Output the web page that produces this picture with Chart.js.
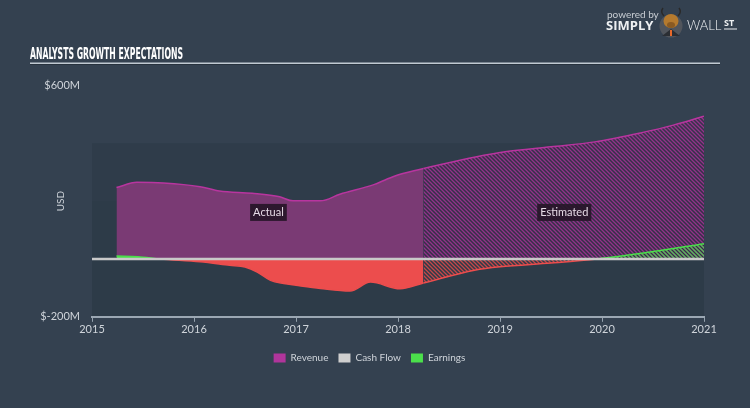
<!DOCTYPE html>
<html>
<head>
<meta charset="utf-8">
<script src="https://cdn.jsdelivr.net/npm/chart.js@4/dist/chart.umd.min.js"></script>
<style>
  html, body { margin: 0; padding: 0; background: #344150; }
  #wrap { width: 750px; height: 408px; position: relative; }
</style>
</head>
<body>
<div id="wrap"><canvas id="growth"></canvas></div>
<script>
// values in $M, x positions in fractional years
const revenueActualYears = [2015.24, 2015.44, 2015.70, 2016.06, 2016.25, 2016.57, 2016.84, 2016.97, 2017.24, 2017.43, 2017.77, 2017.97, 2018.25]
const revenueActual      = [247, 265, 263, 250, 235, 227, 215, 201, 201, 224, 258, 287, 313]
const revenueEstYears    = [2018.25, 2018.76, 2019.05, 2019.5, 2019.93, 2020.39, 2020.7, 2021.0]
const revenueEst         = [313, 353, 371, 388, 405, 437, 463, 494]

const earningsActualYears = [2015.24, 2015.45, 2015.67, 2016.06, 2016.35, 2016.5, 2016.62, 2016.75, 2016.88, 2017.0, 2017.24, 2017.53, 2017.73, 2018.02, 2018.25]
const earningsActual      = [10, 8, 0, -10, -22, -28, -45, -74, -85, -91, -102, -111, -80, -103, -83]
const earningsEstYears    = [2018.25, 2018.75, 2019.0, 2019.5, 2019.95, 2020.47, 2021.0]
const earningsEst         = [-83, -39, -27, -14, 0, 24, 53]

const cashFlowYears = [2015.0, 2018.25, 2021.0]
const cashFlow      = [0, 0, 0]

const yTicks = [-200, 600]
const legendNames = ['Revenue', 'Cash Flow', 'Earnings']

const COLORS = {
  revenueLine: '#b8359f',
  revenueFill: '#7a3a74',
  earningsPos: '#4ade4a',
  earningsNeg: '#ec4d4d',
  cashFlow: '#c9c9c9',
  text: '#cfd4da',
}

function pts(xs, ys) {
  return xs.map((x, i) => ({ x: x, y: ys[i] }))
}

function hatch(color, bg) {
  const c = document.createElement('canvas')
  c.width = 4
  c.height = 4
  const g = c.getContext('2d')
  if (bg) { g.fillStyle = bg; g.fillRect(0, 0, 4, 4) }
  g.strokeStyle = color
  g.lineWidth = 1.3
  g.beginPath()
  g.moveTo(0, 0); g.lineTo(4, 4)
  g.moveTo(-1, 3); g.lineTo(1, 5)
  g.moveTo(3, -1); g.lineTo(5, 1)
  g.stroke()
  return g.createPattern(c, 'repeat')
}

const ctx = document.getElementById('growth').getContext('2d')
const revHatch = hatch('rgba(165,52,150,0.85)', 'rgba(58,42,72,0.6)')
const posHatch = hatch('rgba(80,220,80,0.8)', null)
const negHatch = hatch('rgba(235,75,75,0.8)', null)

const negOrPos = c => (c.p0.parsed.y < 0 || c.p1.parsed.y < 0) ? COLORS.earningsNeg : COLORS.earningsPos

const backdrop = {
  id: 'backdrop',
  beforeDraw(chart) {
    const { ctx, chartArea: a, scales: { y } } = chart
    ctx.save()
    ctx.fillStyle = '#344150'
    ctx.fillRect(0, 0, chart.width, chart.height)
    ctx.fillStyle = '#2f3c4a'
    ctx.fillRect(a.left, y.getPixelForValue(400), a.right - a.left, y.getPixelForValue(200) - y.getPixelForValue(400))
    ctx.fillStyle = '#2d3b48'
    ctx.fillRect(a.left, y.getPixelForValue(200), a.right - a.left, a.bottom - y.getPixelForValue(200))

    // title
    ctx.fillStyle = '#ffffff'
    ctx.font = 'bold 16px "DejaVu Sans Condensed", "Liberation Sans Narrow", sans-serif'
    ctx.textBaseline = 'alphabetic'
    const t = 'ANALYSTS GROWTH EXPECTATIONS'
    const w = ctx.measureText(t).width
    ctx.save()
    ctx.translate(30, 59)
    ctx.scale(153 / w, 1)
    ctx.fillText(t, 0, 0)
    ctx.restore()
    ctx.fillStyle = '#c0c9d1'
    ctx.fillRect(30, 62.5, 690, 1.5)
    ctx.fillStyle = '#232e39'
    ctx.fillRect(30, 64, 690, 0.8)

    // logo
    ctx.fillStyle = '#c8cdd3'
    ctx.font = '10px Lato, sans-serif'
    ctx.fillText('powered by', 607, 18)
    ctx.fillStyle = '#eef0f2'
    ctx.font = 'bold 13px "Open Sans", sans-serif'
    ctx.fillText('SIMPLY', 606, 30)
    ctx.font = '300 13px Lato, sans-serif'
    ctx.fillText('WALL', 687, 30)
    ctx.font = 'bold 9px "Open Sans", sans-serif'
    ctx.fillText('ST', 724, 26)
    ctx.fillRect(724, 28.5, 13, 1)
    ctx.fillStyle = '#51555c'
    ctx.beginPath(); ctx.arc(671, 26, 11.5, 0, Math.PI * 2); ctx.fill()
    ctx.fillStyle = '#2b2e33'
    ctx.beginPath(); ctx.moveTo(662, 36); ctx.lineTo(671, 29); ctx.lineTo(680, 36); ctx.closePath(); ctx.fill()
    ctx.fillStyle = '#b57a2e'
    ctx.beginPath(); ctx.ellipse(671, 21, 7.5, 7, 0, 0, Math.PI * 2); ctx.fill()
    ctx.fillStyle = '#8a5a22'
    ctx.beginPath(); ctx.ellipse(671, 25, 4, 3, 0, 0, Math.PI * 2); ctx.fill()
    ctx.strokeStyle = '#2a2a2a'
    ctx.lineWidth = 1.5
    ctx.beginPath(); ctx.moveTo(664, 16); ctx.quadraticCurveTo(660, 12, 663, 8); ctx.stroke()
    ctx.beginPath(); ctx.moveTo(678, 16); ctx.quadraticCurveTo(682, 12, 679, 8); ctx.stroke()
    ctx.fillStyle = '#e8692a'
    ctx.fillRect(670, 30, 2, 6)
    ctx.restore()
  },
  afterDatasetsDraw(chart) {
    const { ctx, scales: { x, y } } = chart
    const tags = [['Actual', 2016.73], ['Estimated', 2019.63]]
    ctx.save()
    ctx.font = '11px Lato, sans-serif'
    ctx.textAlign = 'center'
    ctx.textBaseline = 'middle'
    tags.forEach(([label, yr]) => {
      const cx = x.getPixelForValue(yr)
      const cy = y.getPixelForValue(161)
      const w = ctx.measureText(label).width + 6
      ctx.fillStyle = 'rgba(38,22,40,0.92)'
      ctx.fillRect(cx - w / 2, cy - 8.5, w, 17)
      ctx.fillStyle = '#e6dbe6'
      ctx.fillText(label, cx, cy + 0.5)
    })
    ctx.restore()
  }
}

new Chart(ctx, {
  type: 'line',
  data: {
    datasets: [
      {
        label: 'Cash Flow',
        data: pts(cashFlowYears, cashFlow),
        borderColor: COLORS.cashFlow,
        borderWidth: 2.5,
        fill: false,
        order: 0,
      },
      {
        label: 'Earnings',
        data: pts(earningsActualYears, earningsActual),
        borderColor: COLORS.earningsNeg,
        segment: { borderColor: negOrPos },
        borderWidth: 1.5,
        fill: { target: 'origin', above: COLORS.earningsPos, below: COLORS.earningsNeg },
        order: 1,
      },
      {
        label: 'Earnings (est.)',
        data: pts(earningsEstYears, earningsEst),
        borderColor: COLORS.earningsNeg,
        segment: { borderColor: negOrPos },
        borderWidth: 1.5,
        fill: { target: 'origin', above: posHatch, below: negHatch },
        order: 1,
      },
      {
        label: 'Revenue',
        data: pts(revenueActualYears, revenueActual),
        borderColor: COLORS.revenueLine,
        backgroundColor: COLORS.revenueFill,
        borderWidth: 1.5,
        fill: 'origin',
        order: 2,
      },
      {
        label: 'Revenue (est.)',
        data: pts(revenueEstYears, revenueEst),
        borderColor: COLORS.revenueLine,
        backgroundColor: revHatch,
        borderWidth: 1.5,
        fill: 'origin',
        order: 2,
      },
    ],
  },
  options: {
    responsive: true,
    maintainAspectRatio: false,
    animation: false,
    events: [],
    elements: {
      point: { radius: 0 },
      line: { tension: 0.4, cubicInterpolationMode: 'monotone' },
    },
    layout: { padding: { top: 85.5, left: 35, right: 46, bottom: 35 } },
    plugins: {
      tooltip: { enabled: false },
      legend: {
        position: 'bottom',
        labels: {
          boxWidth: 12,
          boxHeight: 9,
          padding: 10,
          color: COLORS.text,
          font: { family: 'Lato, sans-serif', size: 10 },
          generateLabels: () => [
            { text: legendNames[0], fillStyle: '#b0359b', strokeStyle: '#b0359b', lineWidth: 0, fontColor: COLORS.text },
            { text: legendNames[1], fillStyle: '#cfcfcf', strokeStyle: '#cfcfcf', lineWidth: 0, fontColor: COLORS.text },
            { text: legendNames[2], fillStyle: '#4be04b', strokeStyle: '#4be04b', lineWidth: 0, fontColor: COLORS.text },
          ],
        },
      },
    },
    scales: {
      x: {
        type: 'linear',
        min: 2015,
        max: 2021,
        afterFit: s => { s.height = s.height + 6 },
        ticks: {
          stepSize: 1,
          padding: 1,
          color: COLORS.text,
          font: { family: 'Lato, sans-serif', size: 11 },
          callback: v => String(v),
        },
        grid: { drawOnChartArea: false, tickLength: 5, color: '#95a2ae', lineWidth: 1 },
        border: { color: '#9ba7b3', width: 2 },
      },
      y: {
        min: -200,
        max: 600,
        afterBuildTicks: s => { s.ticks = yTicks.map(v => ({ value: v })) },
        afterFit: s => { s.width = 57 },
        ticks: {
          padding: 12,
          color: COLORS.text,
          font: { family: 'Lato, sans-serif', size: 11 },
          callback: v => '$' + v + 'M',
        },
        grid: { display: false, drawTicks: false },
        border: { display: false },
        title: {
          display: true,
          text: 'USD',
          color: COLORS.text,
          padding: { top: 20, bottom: 0 },
          font: { family: 'Lato, sans-serif', size: 10 },
        },
      },
    },
  },
  plugins: [backdrop],
})
</script>
</body>
</html>
